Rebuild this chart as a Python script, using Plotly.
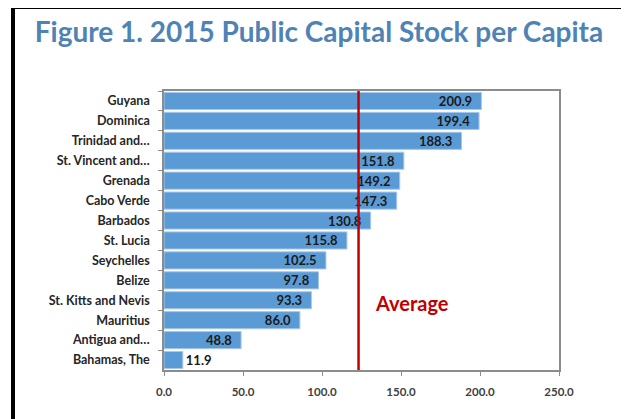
import plotly.graph_objects as go

countries = ["Guyana", "Dominica", "Trinidad and…", "St. Vincent and…", "Grenada",
             "Cabo Verde", "Barbados", "St. Lucia", "Seychelles", "Belize",
             "St. Kitts and Nevis", "Mauritius", "Antigua and…", "Bahamas, The"]
values = [200.9, 199.4, 188.3, 151.8, 149.2, 147.3, 130.8, 115.8, 102.5, 97.8,
          93.3, 86.0, 48.8, 11.9]
x_ticks = [0, 50, 100, 150, 200, 250]
x_tick_labels = ["0.0", "50.0", "100.0", "150.0", "200.0", "250.0"]
average_value = sum(values) / len(values)
title_text = "Figure 1. 2015 Public Capital Stock per Capita"
average_label = "Average"

OFF = 8  # page body margin in the browser
W, H = 629 - OFF, 419 - OFF
L, T = 164 - OFF, 91 - OFF
R = W - (559 - OFF)
B = H - (370 - OFF)
pw, ph = W - L - R, H - T - B

def px_x(px):
    return (px - OFF - L) / pw

def px_y(py):
    return (H - B - (py - OFF)) / ph

positions = ["inside"] * (len(values) - 1) + ["outside"]
labels = [f"{v:.1f}\u00a0\u00a0" if p == "inside" else f"{v:.1f}" for v, p in zip(values, positions)]

fig = go.Figure()
fig.add_trace(go.Bar(
    x=values, y=countries, orientation="h",
    marker=dict(color="#5b9bd5", line=dict(color="#a8c8ea", width=1)),
    text=labels,
    textposition=positions,
    insidetextanchor="end",
    constraintext="none",
    cliponaxis=False,
    textfont=dict(family="Lato", size=13, color="#1a1a1a", weight="bold"),
    hoverinfo="skip",
))

fig.add_shape(type="line", xref="x", yref="paper", x0=average_value, x1=average_value,
              y0=0, y1=1, line=dict(color="#c00000", width=2.5), layer="above")
fig.add_annotation(text=f"<b>{average_label}</b>", xref="paper", yref="paper",
                   x=px_x(412), y=px_y(317), showarrow=False,
                   font=dict(family="Lato", size=20, color="#c00000"))

# outer frame
fig.add_shape(type="rect", xref="paper", yref="paper",
              x0=px_x(13), x1=px_x(623), y0=px_y(440), y1=px_y(7),
              line=dict(color="black", width=4), layer="above")

fig.update_layout(
    width=W, height=H,
    margin=dict(l=L, r=R, t=T, b=B),
    paper_bgcolor="white", plot_bgcolor="white",
    bargap=0.14,
    showlegend=False,
    title=dict(text=f"<b>{title_text}</b>", x=(319 - OFF) / W, xanchor="center", xref="container",
               y=1 - (32 - OFF) / H, yanchor="middle",
               font=dict(family="Lato", size=28, color="#4f83b5")),
    xaxis=dict(range=[0, 250], tickvals=x_ticks, ticktext=x_tick_labels,
               showgrid=False, zeroline=False, showline=True, linecolor="#8c8c8c",
               linewidth=1.5, mirror=True, ticks="outside", ticklen=4, tickcolor="#8c8c8c",
               ticklabelstandoff=6,
               tickfont=dict(family="Lato", size=11.5, color="#404040", weight="bold")),
    yaxis=dict(autorange="reversed", showgrid=False, showline=True, linecolor="#8c8c8c",
               linewidth=1.5, mirror=True, ticks="outside", ticklen=4, tickcolor="#8c8c8c",
               tickson="boundaries", ticklabelstandoff=10,
               tickfont=dict(family="Lato", size=12.5, color="#262626", weight="bold")),
)
fig.write_html("out.html")
